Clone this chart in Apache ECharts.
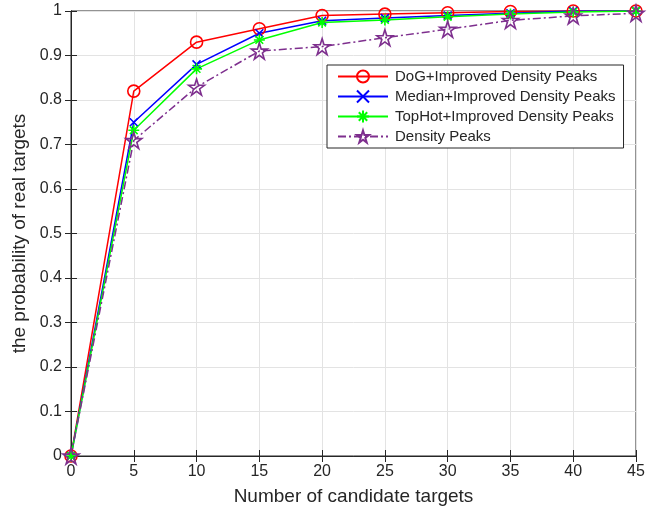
<!DOCTYPE html>
<html>
<head>
<meta charset="utf-8">
<script src="https://cdn.jsdelivr.net/npm/echarts@6/dist/echarts.min.js"></script>
<style>
html, body { margin: 0; padding: 0; background: #fff; }
#chart { width: 670px; height: 512px; }
</style>
</head>
<body>
<div id="chart"></div>
<script>
var xValues = [0, 5, 10, 15, 20, 25, 30, 35, 40, 45];
var dogValues = [0, 0.82, 0.93, 0.96, 0.99, 0.993, 0.996, 0.999, 1.0, 1.0];
var medianValues = [0, 0.75, 0.88, 0.95, 0.978, 0.984, 0.99, 0.995, 1.0, 1.0];
var topHotValues = [0, 0.732, 0.87, 0.935, 0.974, 0.98, 0.987, 0.993, 0.998, 1.0];
var densityValues = [0, 0.709, 0.829, 0.91, 0.92, 0.94, 0.959, 0.979, 0.989, 0.995];
var seriesNames = ['DoG+Improved Density Peaks', 'Median+Improved Density Peaks',
	'TopHot+Improved Density Peaks', 'Density Peaks'];

var font = 'Liberation Sans, Arial, sans-serif';
var textColor = '#262626';

function pairs(ys) {
	return xValues.map(function (x, i) { return [x, ys[i]]; });
}

var xMark = 'path://M0,0L10,10M10,0L0,10';
var starMark = 'path://M0,-10L2.245,-3.09L9.51,-3.09L3.633,1.18L5.88,8.09L0,3.82L-5.88,8.09L-3.633,1.18L-9.51,-3.09L-2.245,-3.09Z';
var asterMark = 'path://M0,5L10,5M5,0L5,10M1.5,1.5L8.5,8.5M8.5,1.5L1.5,8.5';

function makeSeries(name, ys, color, symbol, size, dash) {
	return {
		name: name,
		type: 'line',
		data: pairs(ys),
		symbol: symbol,
		symbolSize: size,
		showAllSymbol: true,
		lineStyle: { color: color, width: 1.5, type: dash || 'solid' },
		itemStyle: { color: 'rgba(255,255,255,0)', borderColor: color, borderWidth: 1.6 },
		emphasis: { disabled: true },
		z: 3
	};
}

// 坐标轴公共样式
var tickStyle = { inside: true, length: 6, lineStyle: { color: textColor } };
var lineStyle = { show: true, lineStyle: { color: textColor } };

var myChart = echarts.init(document.getElementById('chart'));
var option = {
	animation: false,
	backgroundColor: '#fff',
	grid: {
		left: 71, right: 34, top: 11, bottom: 56,
		show: true, borderColor: textColor, borderWidth: 1, backgroundColor: '#fff'
	},
	legend: {
		orient: 'vertical',
		left: 327, top: 65,
		padding: [4, 8, 4, 10],
		itemWidth: 50, itemHeight: 15, itemGap: 5,
		backgroundColor: '#fff',
		borderColor: textColor, borderWidth: 1, borderRadius: 0,
		textStyle: { fontFamily: font, fontSize: 15, color: textColor, padding: [0, 0, 0, 2] },
		data: seriesNames
	},
	xAxis: [{
		type: 'value', min: 0, max: 45, interval: 5,
		name: 'Number of candidate targets', nameLocation: 'middle', nameGap: 31,
		nameTextStyle: { fontFamily: font, fontSize: 19, color: textColor },
		axisLine: lineStyle,
		axisTick: tickStyle,
		axisLabel: { fontFamily: font, fontSize: 16, color: textColor, margin: 8 },
		splitLine: { show: true, lineStyle: { color: '#e3e3e3' } }
	}, {
		type: 'value', min: 0, max: 45, interval: 5, position: 'top',
		axisLine: lineStyle, axisTick: tickStyle,
		axisLabel: { show: false }, splitLine: { show: false }
	}],
	yAxis: [{
		type: 'value', min: 0, max: 1, interval: 0.1,
		name: 'the probability of real targets', nameLocation: 'middle', nameGap: 33,
		nameTextStyle: { fontFamily: font, fontSize: 19, color: textColor },
		axisLine: lineStyle,
		axisTick: tickStyle,
		axisLabel: {
			fontFamily: font, fontSize: 16, color: textColor, margin: 9,
			formatter: function (v) { return String(Math.round(v * 10) / 10); }
		},
		splitLine: { show: true, lineStyle: { color: '#e3e3e3' } }
	}, {
		type: 'value', min: 0, max: 1, interval: 0.1, position: 'right',
		axisLine: lineStyle, axisTick: tickStyle,
		axisLabel: { show: false }, splitLine: { show: false }
	}],
	series: [
		makeSeries(seriesNames[0], dogValues, '#ff0000', 'circle', 12),
		makeSeries(seriesNames[1], medianValues, '#0000ff', xMark, 8),
		makeSeries(seriesNames[2], topHotValues, '#00ff00', asterMark, 11),
		makeSeries(seriesNames[3], densityValues, '#7e2f8e', starMark, 16, [8, 3, 2, 3])
	]
};
myChart.setOption(option);
</script>
</body>
</html>
